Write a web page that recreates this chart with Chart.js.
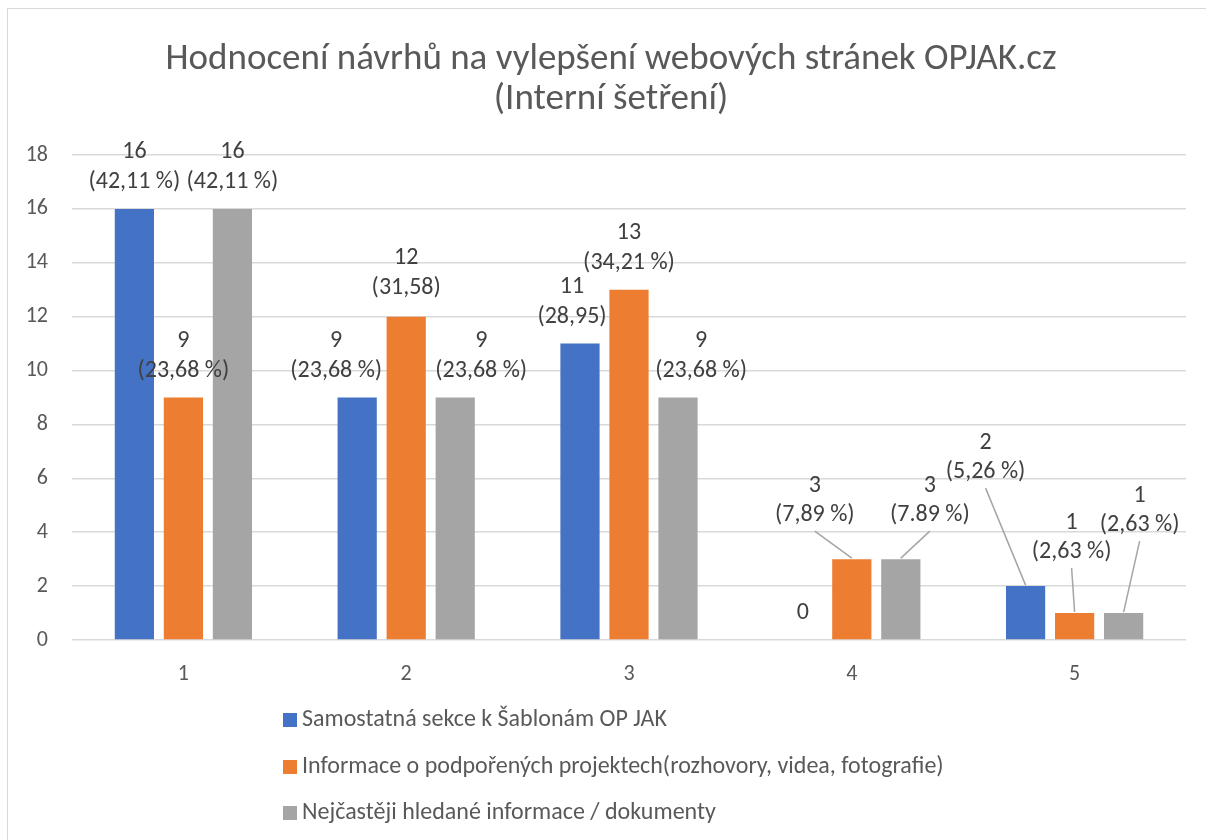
<!DOCTYPE html>
<html>
<head>
<meta charset="utf-8">
<title>Hodnocení návrhů na vylepšení webových stránek OPJAK.cz</title>
<script src="https://cdn.jsdelivr.net/npm/chart.js@4.4.1/dist/chart.umd.min.js"></script>
<style>
  body { margin: 0; background: #fff; }
  canvas { display: block; }
</style>
</head>
<body>
<canvas id="chart" width="1206" height="840"></canvas>
<script>
// chart texts
const titleLines = ['Hodnocení návrhů na vylepšení webových stránek OPJAK.cz', '(Interní šetření)'];
const categories = ['1', '2', '3', '4', '5'];
const seriesNames = [
  'Samostatná sekce k Šablonám OP JAK',
  'Informace o podpořených projektech(rozhovory, videa, fotografie)',
  'Nejčastěji hledané informace / dokumenty'
];

// counts per rating, one array per series
const sekceValues = [16, 9, 11, 0, 2];
const projektyValues = [9, 12, 13, 3, 1];
const hledaneValues = [16, 9, 9, 3, 1];

// percentage labels exactly as written in the source chart
const sekcePercent = ['(42,11 %)', '(23,68 %)', '(28,95)', '', '(5,26 %)'];
const projektyPercent = ['(23,68 %)', '(31,58)', '(34,21 %)', '(7,89 %)', '(2,63 %)'];
const hledanePercent = ['(42,11 %)', '(23,68 %)', '(23,68 %)', '(7.89 %)', '(2,63 %)'];

// y axis
const yMax = 18;
const yStep = 2;

// styling
const seriesColors = ['#4472C4', '#ED7D31', '#A5A5A5'];
const fontFamily = "Carlito, Calibri, Lato, 'Open Sans', sans-serif";
const textGray = '#595959';
const labelGray = '#404040';

// moved labels: [dx, dy, leader line] in pixels, per series and category
const labelShift = [
  [[0, 0, false], [-21, 0, false], [-8, 0, false], [0, 0, false], [-40, -87, true]],
  [[0, 0, false], [0, -2, false], [0, 0, false], [-37, -17, true], [-3, -34, true]],
  [[0, 0, false], [26, 0, false], [23, 0, false], [29, -17, true], [16, -61, true]]
];

const percentLabels = [sekcePercent, projektyPercent, hledanePercent];

// white page, light frame and the two line title
const framePlugin = {
  id: 'frame',
  beforeDraw(chart) {
    const ctx = chart.ctx;
    ctx.save();
    ctx.fillStyle = '#ffffff';
    ctx.fillRect(0, 0, chart.width, chart.height);
    ctx.strokeStyle = '#d9d9d9';
    ctx.lineWidth = 1;
    ctx.strokeRect(7.5, 8.5, chart.width + 20, chart.height + 20);

    // title is centred on the frame, not on the canvas
    ctx.font = '37px ' + fontFamily;
    ctx.fillStyle = textGray;
    ctx.textAlign = 'center';
    ctx.textBaseline = 'middle';
    titleLines.forEach((line, i) => {
      ctx.fillText(line, 611, 60 + i * 40);
    });
    ctx.restore();
  }
};

// two line value labels above the bars, with leader lines where moved
const valueLabelPlugin = {
  id: 'valueLabels',
  afterDatasetsDraw(chart) {
    const ctx = chart.ctx;
    ctx.save();
    ctx.font = '24px ' + fontFamily;
    ctx.fillStyle = labelGray;
    ctx.textAlign = 'center';
    ctx.textBaseline = 'middle';
    chart.data.datasets.forEach((ds, i) => {
      const meta = chart.getDatasetMeta(i);
      meta.data.forEach((bar, j) => {
        const shift = labelShift[i][j];
        const x = bar.x + shift[0];
        const y2 = bar.y - 27 + shift[1];
        const y1 = y2 - 29.5;
        const pct = percentLabels[i][j];
        if (pct === '') {
          ctx.fillText(String(ds.data[j]), x, y2);
        } else {
          ctx.fillText(String(ds.data[j]), x, y1);
          ctx.fillText(pct, x, y2);
        }
        if (shift[2]) {
          ctx.strokeStyle = '#a5a5a5';
          ctx.lineWidth = 1.5;
          ctx.beginPath();
          ctx.moveTo(x, y2 + 16);
          ctx.lineTo(bar.x, bar.y - 1);
          ctx.stroke();
        }
      });
    });
    ctx.restore();
  }
};

// vertical legend list under the x axis
const legendListPlugin = {
  id: 'legendList',
  afterDraw(chart) {
    const ctx = chart.ctx;
    const left = 283;
    const rows = [720, 767, 813];
    ctx.save();
    ctx.font = '24px ' + fontFamily;
    ctx.textAlign = 'left';
    ctx.textBaseline = 'middle';
    chart.data.datasets.forEach((ds, i) => {
      ctx.fillStyle = ds.backgroundColor;
      ctx.fillRect(left, rows[i] - 7, 14, 14);
      ctx.fillStyle = textGray;
      ctx.fillText(ds.label, left + 19, rows[i]);
    });
    ctx.restore();
  }
};

const values = [sekceValues, projektyValues, hledaneValues];

new Chart(document.getElementById('chart'), {
  type: 'bar',
  data: {
    labels: categories,
    datasets: seriesNames.map((name, i) => ({
      label: name,
      data: values[i],
      backgroundColor: seriesColors[i],
      borderWidth: 0,
      categoryPercentage: 0.66,
      barPercentage: 0.8
    }))
  },
  options: {
    responsive: false,
    animation: false,
    layout: { padding: { left: 0, right: 20, top: 155, bottom: 0 } },
    plugins: {
      legend: { display: false },
      title: { display: false },
      tooltip: { enabled: false }
    },
    scales: {
      x: {
        grid: { display: false, drawTicks: false, tickLength: 0 },
        border: { display: false },
        ticks: { color: textGray, font: { family: fontFamily, size: 22 }, padding: 21 },
        afterFit: (scale) => { scale.height = 200; }
      },
      y: {
        min: 0,
        max: yMax,
        grid: { color: '#d9d9d9', lineWidth: 1.5, drawTicks: false, tickLength: 0 },
        border: { display: false },
        ticks: { stepSize: yStep, color: textGray, font: { family: fontFamily, size: 22 }, padding: 24 },
        afterFit: (scale) => { scale.width = 72; }
      }
    }
  },
  plugins: [framePlugin, valueLabelPlugin, legendListPlugin]
});
</script>
</body>
</html>
